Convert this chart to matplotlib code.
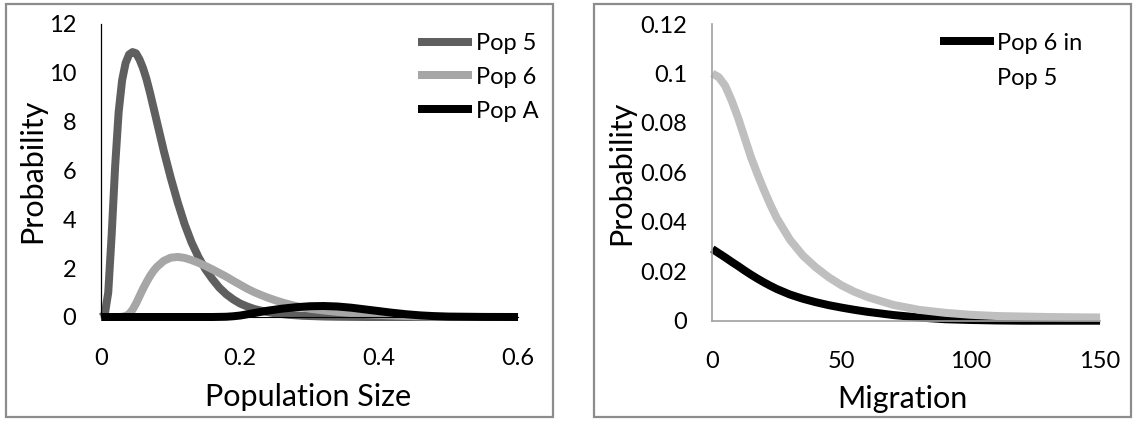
import matplotlib.pyplot as plt
from matplotlib.lines import Line2D
from matplotlib.patches import Rectangle

plt.rcParams['font.family'] = ['Lato', 'DejaVu Sans']

# left panel: population size
size_x = [0, 0.005, 0.01, 0.015, 0.02, 0.025, 0.03, 0.035, 0.04, 0.045, 0.05, 0.055, 0.06,
          0.065, 0.07, 0.075, 0.08,
          0.09, 0.10, 0.11, 0.12, 0.13, 0.14, 0.15, 0.16, 0.17, 0.18, 0.19, 0.20,
          0.21, 0.22, 0.23, 0.24, 0.25, 0.26, 0.27, 0.28, 0.29, 0.30,
          0.32, 0.34, 0.36, 0.38, 0.40, 0.42, 0.44, 0.46, 0.48, 0.50, 0.55, 0.60]
pop5 = [0, 0.1, 1.0, 3.4, 6.2, 8.4, 9.7, 10.4, 10.75, 10.85, 10.8, 10.55, 10.2,
        9.75, 9.2, 8.6, 8.0,
        6.8, 5.7, 4.7, 3.8, 3.05, 2.45, 1.95, 1.55, 1.2, 0.93, 0.72, 0.55,
        0.43, 0.33, 0.26, 0.2, 0.15, 0.12, 0.09, 0.07, 0.05, 0.04,
        0.02, 0.01, 0.005, 0, 0, 0, 0, 0, 0, 0, 0, 0]
pop6 = [0, 0, 0, 0, 0, 0, 0.01, 0.04, 0.12, 0.3, 0.55, 0.85, 1.15,
        1.42, 1.67, 1.88, 2.05,
        2.3, 2.43, 2.46, 2.42, 2.33, 2.22, 2.09, 1.95, 1.8, 1.65, 1.48, 1.32,
        1.16, 1.02, 0.9, 0.79, 0.69, 0.6, 0.52, 0.45, 0.39, 0.34,
        0.27, 0.21, 0.16, 0.12, 0.085, 0.06, 0.04, 0.025, 0.015, 0.01, 0, 0]
popA = [0, 0, 0, 0, 0, 0, 0, 0, 0, 0, 0, 0, 0,
        0, 0, 0, 0,
        0, 0, 0, 0, 0, 0, 0, 0, 0.005, 0.01, 0.03, 0.06,
        0.11, 0.16, 0.21, 0.26, 0.3, 0.34, 0.37, 0.4, 0.42, 0.44,
        0.45, 0.43, 0.38, 0.31, 0.24, 0.17, 0.11, 0.065, 0.035, 0.015, 0.003, 0]

# right panel: migration
mig_x = [0, 2.5, 5, 7.5, 10, 12.5, 15, 17.5, 20, 22.5, 25, 30, 35, 40, 45, 50, 55, 60,
         70, 80, 90, 100, 110, 120, 130, 140, 150]
mig_black = [0.029, 0.0273, 0.0256, 0.0238, 0.0221, 0.0203, 0.0186, 0.017, 0.0155, 0.0141,
             0.0128, 0.0106, 0.0089, 0.0075, 0.0063, 0.0053, 0.0044, 0.0036,
             0.0023, 0.0013, 0.0006, 0.0003, 0.0001, 0, 0, 0, 0]
mig_gray = [0.100, 0.0985, 0.095, 0.089, 0.082, 0.074, 0.066, 0.0592, 0.0528, 0.0468,
            0.0414, 0.0328, 0.0264, 0.0216, 0.0176, 0.0143, 0.0117, 0.0096,
            0.0064, 0.0044, 0.0032, 0.0024, 0.0019, 0.0017, 0.0015, 0.0014, 0.0013]

LW = 5.75
TICK_FS = 17
LABEL_FS = 22
line_kw = dict(lw=LW, clip_on=False, solid_capstyle='butt', solid_joinstyle='round')

fig = plt.figure(figsize=(11.33, 4.23), dpi=100)

# chart borders like excel
for x0, w in [(0.0053, 0.4828), (0.5243, 0.4735)]:
    fig.patches.append(Rectangle((x0, 0.0142), w, 0.9764, transform=fig.transFigure,
                                 fill=False, edgecolor='#8c8c8c', linewidth=1.6))

ax1 = fig.add_axes([0.0894, 0.2506, 0.3678, 0.6927])
ax1.plot(size_x, pop5, color='#5f5f5f', label='Pop 5', **line_kw)
ax1.plot(size_x, pop6, color='#a6a6a6', label='Pop 6', **line_kw)
ax1.plot(size_x, popA, color='black', label='Pop A', **line_kw)
ax1.set_xlim(0, 0.6)
ax1.set_ylim(0, 12)
ax1.set_xticks([0, 0.2, 0.4, 0.6])
ax1.set_xticklabels(['0', '0.2', '0.4', '0.6'])
ax1.set_yticks(range(0, 13, 2))
ax1.tick_params(axis='y', length=0, pad=18, labelsize=TICK_FS)
ax1.tick_params(axis='x', length=0, pad=22, labelsize=TICK_FS)
for s in ['top', 'right']:
    ax1.spines[s].set_visible(False)
ax1.spines['left'].set_linewidth(0.9)
ax1.set_xlabel('Population Size', fontsize=LABEL_FS)
ax1.set_ylabel('Probability', fontsize=LABEL_FS)
ax1.xaxis.set_label_coords(0.495, -0.225)
ax1.yaxis.set_label_coords(-0.131, 0.5)
ax1.legend(loc='upper left', bbox_to_anchor=(0.76, 0.97), frameon=False, fontsize=TICK_FS,
           borderaxespad=0, borderpad=0, handlelength=2.3, handletextpad=0.15, labelspacing=0.55)

ax2 = fig.add_axes([0.6287, 0.2418, 0.3422, 0.7014])
black_line, = ax2.plot(mig_x, mig_black, color='black', **line_kw)
ax2.plot(mig_x, mig_gray, color='#bfbfbf', **line_kw)
ax2.set_xlim(0, 150)
ax2.set_ylim(0, 0.12)
ax2.set_xticks([0, 50, 100, 150])
ax2.set_yticks([0, 0.02, 0.04, 0.06, 0.08, 0.1, 0.12])
ax2.set_yticklabels(['0', '0.02', '0.04', '0.06', '0.08', '0.1', '0.12'])
ax2.tick_params(axis='y', length=0, pad=18, labelsize=TICK_FS)
ax2.tick_params(axis='x', length=0, pad=22, labelsize=TICK_FS)
for s in ['top', 'right']:
    ax2.spines[s].set_visible(False)
for s in ['left', 'bottom']:
    ax2.spines[s].set_color('#a0a0a0')
    ax2.spines[s].set_linewidth(1.2)
ax2.set_xlabel('Migration', fontsize=LABEL_FS)
ax2.set_ylabel('Probability', fontsize=LABEL_FS)
ax2.xaxis.set_label_coords(0.49, -0.215)
ax2.yaxis.set_label_coords(-0.2, 0.5)
ax2.legend([black_line, Line2D([], [], color='none')], ['Pop 6 in', 'Pop 5'],
           loc='upper left', bbox_to_anchor=(0.587, 0.971), frameon=False, fontsize=TICK_FS,
           borderaxespad=0, borderpad=0, handlelength=2.3, handletextpad=0.1, labelspacing=0.6)

fig.savefig('out.png', dpi=100)
